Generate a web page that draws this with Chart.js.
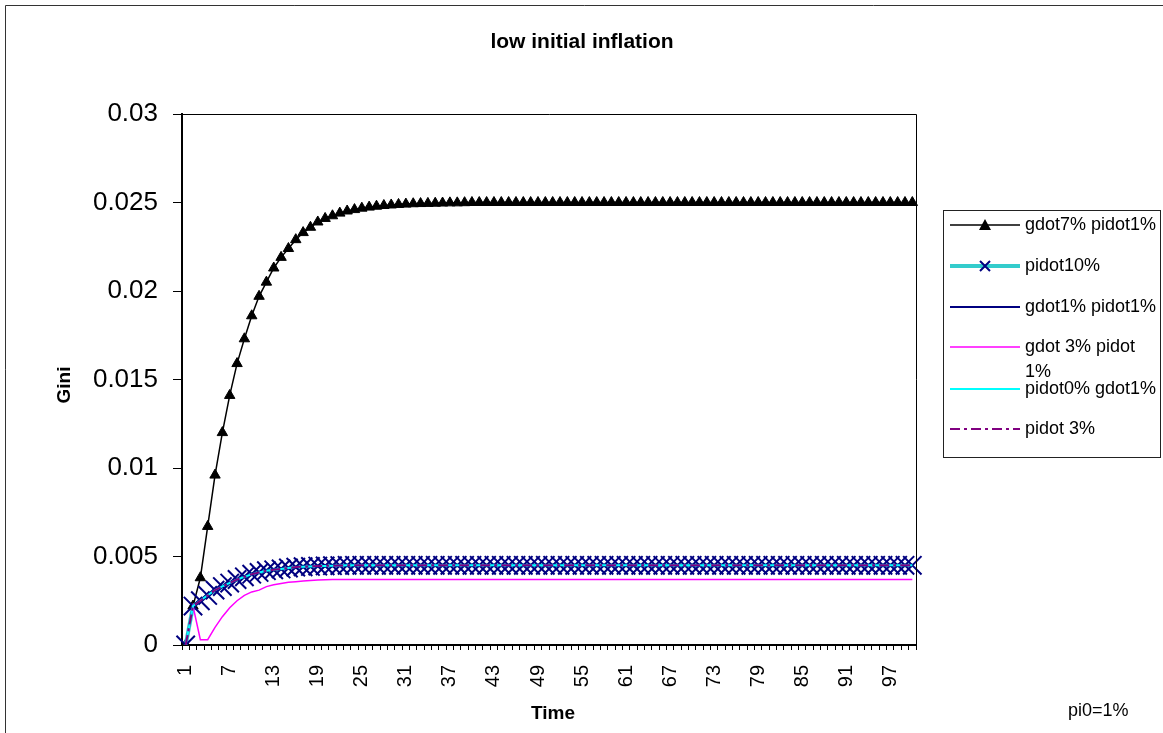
<!DOCTYPE html>
<html>
<head>
<meta charset="utf-8">
<script src="https://cdn.jsdelivr.net/npm/chart.js@4.4.1/dist/chart.umd.min.js"></script>
<style>
  html, body { margin: 0; padding: 0; background: #fff; }
</style>
</head>
<body>
<canvas id="c" width="1163" height="733"></canvas>
<script>
const FONT = "'Liberation Sans', Arial, sans-serif";

// time steps 1..100
const timeSteps = Array.from({ length: 100 }, (_, i) => String(i + 1));

const seriesNames = ['gdot7% pidot1%', 'pidot10%', 'gdot1% pidot1%', 'gdot 3% pidot 1%', 'pidot0% gdot1%', 'pidot 3%'];

const gdot7pidot1 = [
  0, 0.0022, 0.0038, 0.0067, 0.0096, 0.0120, 0.0141, 0.0159, 0.0173, 0.0186,
  0.0197, 0.0205, 0.0213, 0.0219, 0.0224, 0.0229, 0.0233, 0.0236, 0.0239, 0.0241,
  0.02425, 0.0244, 0.02452, 0.0246, 0.02468, 0.02474, 0.02479, 0.02483, 0.02486, 0.02489,
  0.02491, 0.02493, 0.02494, 0.02495, 0.02496, 0.02497, 0.02498, 0.02498, 0.02499, 0.025,
  0.025, 0.025, 0.025, 0.025, 0.025, 0.025, 0.025, 0.025, 0.025, 0.025,
  0.025, 0.025, 0.025, 0.025, 0.025, 0.025, 0.025, 0.025, 0.025, 0.025,
  0.025, 0.025, 0.025, 0.025, 0.025, 0.025, 0.025, 0.025, 0.025, 0.025,
  0.025, 0.025, 0.025, 0.025, 0.025, 0.025, 0.025, 0.025, 0.025, 0.025,
  0.025, 0.025, 0.025, 0.025, 0.025, 0.025, 0.025, 0.025, 0.025, 0.025,
  0.025, 0.025, 0.025, 0.025, 0.025, 0.025, 0.025, 0.025, 0.025, 0.025
];

const pidot10 = [
  0, 0.0022, 0.0025, 0.0028, 0.0031, 0.0033, 0.0035, 0.0037, 0.00385, 0.0040,
  0.0041, 0.0042, 0.00425, 0.0043, 0.00435, 0.0044, 0.00442, 0.00444, 0.00446, 0.00447,
  0.00448, 0.00449, 0.0045, 0.0045, 0.0045, 0.0045, 0.0045, 0.0045, 0.0045, 0.0045,
  0.0045, 0.0045, 0.0045, 0.0045, 0.0045, 0.0045, 0.0045, 0.0045, 0.0045, 0.0045,
  0.0045, 0.0045, 0.0045, 0.0045, 0.0045, 0.0045, 0.0045, 0.0045, 0.0045, 0.0045,
  0.0045, 0.0045, 0.0045, 0.0045, 0.0045, 0.0045, 0.0045, 0.0045, 0.0045, 0.0045,
  0.0045, 0.0045, 0.0045, 0.0045, 0.0045, 0.0045, 0.0045, 0.0045, 0.0045, 0.0045,
  0.0045, 0.0045, 0.0045, 0.0045, 0.0045, 0.0045, 0.0045, 0.0045, 0.0045, 0.0045,
  0.0045, 0.0045, 0.0045, 0.0045, 0.0045, 0.0045, 0.0045, 0.0045, 0.0045, 0.0045,
  0.0045, 0.0045, 0.0045, 0.0045, 0.0045, 0.0045, 0.0045, 0.0045, 0.0045, 0.0045
];

const gdot1pidot1 = [
  0, 0.0022, 0.00252, 0.00282, 0.0031, 0.00332, 0.00352, 0.0037, 0.00386, 0.004,
  0.0041, 0.00418, 0.00425, 0.0043, 0.00435, 0.00439, 0.00442, 0.00444, 0.00446, 0.00447,
  0.00448, 0.00449, 0.0045, 0.0045, 0.0045, 0.0045, 0.0045, 0.0045, 0.0045, 0.0045,
  0.0045, 0.0045, 0.0045, 0.0045, 0.0045, 0.0045, 0.0045, 0.0045, 0.0045, 0.0045,
  0.0045, 0.0045, 0.0045, 0.0045, 0.0045, 0.0045, 0.0045, 0.0045, 0.0045, 0.0045,
  0.0045, 0.0045, 0.0045, 0.0045, 0.0045, 0.0045, 0.0045, 0.0045, 0.0045, 0.0045,
  0.0045, 0.0045, 0.0045, 0.0045, 0.0045, 0.0045, 0.0045, 0.0045, 0.0045, 0.0045,
  0.0045, 0.0045, 0.0045, 0.0045, 0.0045, 0.0045, 0.0045, 0.0045, 0.0045, 0.0045,
  0.0045, 0.0045, 0.0045, 0.0045, 0.0045, 0.0045, 0.0045, 0.0045, 0.0045, 0.0045,
  0.0045, 0.0045, 0.0045, 0.0045, 0.0045, 0.0045, 0.0045, 0.0045, 0.0045, 0.0045
];

const gdot3pidot1 = [
  0, 0.0022, 0.0003, 0.0003, 0.0010, 0.0016, 0.0021, 0.0025, 0.0028, 0.0030,
  0.0031, 0.0033, 0.0034, 0.00348, 0.00354, 0.00358, 0.00362, 0.00365, 0.00367, 0.00369,
  0.0037, 0.0037, 0.0037, 0.0037, 0.0037, 0.0037, 0.0037, 0.0037, 0.0037, 0.0037,
  0.0037, 0.0037, 0.0037, 0.0037, 0.0037, 0.0037, 0.0037, 0.0037, 0.0037, 0.0037,
  0.0037, 0.0037, 0.0037, 0.0037, 0.0037, 0.0037, 0.0037, 0.0037, 0.0037, 0.0037,
  0.0037, 0.0037, 0.0037, 0.0037, 0.0037, 0.0037, 0.0037, 0.0037, 0.0037, 0.0037,
  0.0037, 0.0037, 0.0037, 0.0037, 0.0037, 0.0037, 0.0037, 0.0037, 0.0037, 0.0037,
  0.0037, 0.0037, 0.0037, 0.0037, 0.0037, 0.0037, 0.0037, 0.0037, 0.0037, 0.0037,
  0.0037, 0.0037, 0.0037, 0.0037, 0.0037, 0.0037, 0.0037, 0.0037, 0.0037, 0.0037,
  0.0037, 0.0037, 0.0037, 0.0037, 0.0037, 0.0037, 0.0037, 0.0037, 0.0037, 0.0037
];

const pidot0gdot1 = [
  0, 0.0022, 0.00251, 0.00281, 0.0031, 0.00331, 0.00351, 0.0037, 0.00385, 0.004,
  0.0041, 0.00419, 0.00425, 0.0043, 0.00435, 0.0044, 0.00442, 0.00444, 0.00446, 0.00447,
  0.00448, 0.00449, 0.0045, 0.0045, 0.0045, 0.0045, 0.0045, 0.0045, 0.0045, 0.0045,
  0.0045, 0.0045, 0.0045, 0.0045, 0.0045, 0.0045, 0.0045, 0.0045, 0.0045, 0.0045,
  0.0045, 0.0045, 0.0045, 0.0045, 0.0045, 0.0045, 0.0045, 0.0045, 0.0045, 0.0045,
  0.0045, 0.0045, 0.0045, 0.0045, 0.0045, 0.0045, 0.0045, 0.0045, 0.0045, 0.0045,
  0.0045, 0.0045, 0.0045, 0.0045, 0.0045, 0.0045, 0.0045, 0.0045, 0.0045, 0.0045,
  0.0045, 0.0045, 0.0045, 0.0045, 0.0045, 0.0045, 0.0045, 0.0045, 0.0045, 0.0045,
  0.0045, 0.0045, 0.0045, 0.0045, 0.0045, 0.0045, 0.0045, 0.0045, 0.0045, 0.0045,
  0.0045, 0.0045, 0.0045, 0.0045, 0.0045, 0.0045, 0.0045, 0.0045, 0.0045, 0.0045
];

const pidot3 = [
  0, 0.0022, 0.0025, 0.0028, 0.0031, 0.0033, 0.0035, 0.0037, 0.00385, 0.0040,
  0.0041, 0.0042, 0.00425, 0.0043, 0.00435, 0.0044, 0.00442, 0.00444, 0.00446, 0.00447,
  0.00448, 0.00449, 0.0045, 0.0045, 0.0045, 0.0045, 0.0045, 0.0045, 0.0045, 0.0045,
  0.0045, 0.0045, 0.0045, 0.0045, 0.0045, 0.0045, 0.0045, 0.0045, 0.0045, 0.0045,
  0.0045, 0.0045, 0.0045, 0.0045, 0.0045, 0.0045, 0.0045, 0.0045, 0.0045, 0.0045,
  0.0045, 0.0045, 0.0045, 0.0045, 0.0045, 0.0045, 0.0045, 0.0045, 0.0045, 0.0045,
  0.0045, 0.0045, 0.0045, 0.0045, 0.0045, 0.0045, 0.0045, 0.0045, 0.0045, 0.0045,
  0.0045, 0.0045, 0.0045, 0.0045, 0.0045, 0.0045, 0.0045, 0.0045, 0.0045, 0.0045,
  0.0045, 0.0045, 0.0045, 0.0045, 0.0045, 0.0045, 0.0045, 0.0045, 0.0045, 0.0045,
  0.0045, 0.0045, 0.0045, 0.0045, 0.0045, 0.0045, 0.0045, 0.0045, 0.0045, 0.0045
];

// series styles (same order as seriesNames)
const styles = [
  { color: '#000000', width: 1.5, dash: [], point: 'triangle', pointColor: '#000000', radius: 6 },
  { color: '#33CCCC', width: 4, dash: [], point: 'crossRot', pointColor: '#000080', radius: 13 },
  { color: '#000080', width: 2, dash: [], point: false },
  { color: '#FF00FF', width: 1.5, dash: [], point: false },
  { color: '#00FFFF', width: 2, dash: [], point: false },
  { color: '#800080', width: 2, dash: [10, 4, 3, 4], point: false }
];

const allValues = [gdot7pidot1, pidot10, gdot1pidot1, gdot3pidot1, pidot0gdot1, pidot3];

const datasets = allValues.map((vals, i) => {
  const s = styles[i];
  return {
    label: seriesNames[i],
    data: vals,
    borderColor: s.color,
    borderWidth: s.width,
    borderDash: s.dash,
    backgroundColor: s.pointColor || s.color,
    pointStyle: s.point,
    pointRadius: s.point ? s.radius : 0,
    pointBackgroundColor: s.pointColor,
    pointBorderColor: s.pointColor,
    pointBorderWidth: s.point === 'crossRot' ? 2 : 1,
    tension: 0,
    fill: false,
    order: 5 - i
  };
});

function wrapText(ctx, text, maxW) {
  const words = text.split(' ');
  const lines = [];
  let cur = '';
  words.forEach(w => {
    const test = cur ? cur + ' ' + w : w;
    if (ctx.measureText(test).width > maxW && cur) {
      lines.push(cur);
      cur = w;
    } else {
      cur = test;
    }
  });
  lines.push(cur);
  return lines;
}

const decor = {
  id: 'decor',
  beforeDraw(chart) {
    const ctx = chart.ctx;
    ctx.save();
    ctx.fillStyle = '#fff';
    ctx.fillRect(0, 0, chart.width, chart.height);
    ctx.restore();
  },
  afterDraw(chart) {
    const { ctx, chartArea: a } = chart;
    ctx.save();

    // outer frame
    ctx.strokeStyle = '#333';
    ctx.lineWidth = 1;
    ctx.beginPath();
    ctx.moveTo(5.5, chart.height);
    ctx.lineTo(5.5, 5.5);
    ctx.lineTo(chart.width, 5.5);
    ctx.stroke();

    // plot area border (top and right)
    ctx.strokeStyle = '#000';
    ctx.lineWidth = 1;
    ctx.beginPath();
    ctx.moveTo(a.left, a.top + 0.5);
    ctx.lineTo(a.right + 0.5, a.top + 0.5);
    ctx.lineTo(a.right + 0.5, a.bottom);
    ctx.stroke();

    // title
    ctx.fillStyle = '#000';
    ctx.textAlign = 'center';
    ctx.textBaseline = 'middle';
    ctx.font = 'bold 21px ' + FONT;
    ctx.fillText('low initial inflation', 582, 42);

    // axis titles
    ctx.font = 'bold 19px ' + FONT;
    ctx.fillText('Time', 553, 714);
    ctx.save();
    ctx.translate(65, 385);
    ctx.rotate(-Math.PI / 2);
    ctx.fillText('Gini', 0, 0);
    ctx.restore();

    ctx.font = '18px ' + FONT;
    ctx.textAlign = 'left';
    ctx.fillText('pi0=1%', 1068, 711);

    // legend
    const box = { x: 943.5, y: 210.5, w: 217, h: 247 };
    ctx.strokeStyle = '#222';
    ctx.lineWidth = 1;
    ctx.strokeRect(box.x, box.y, box.w, box.h);

    const rowY = [225, 266, 307, 347, 389, 429];
    ctx.font = '18px ' + FONT;
    seriesNames.forEach((name, i) => {
      const s = styles[i];
      const y = rowY[i];
      ctx.save();
      ctx.strokeStyle = s.color;
      ctx.lineWidth = s.width;
      ctx.setLineDash(s.dash);
      ctx.beginPath();
      ctx.moveTo(950, y);
      ctx.lineTo(1020, y);
      ctx.stroke();
      ctx.restore();
      if (s.point) {
        ctx.fillStyle = s.pointColor;
        ctx.strokeStyle = s.pointColor;
        ctx.lineWidth = s.point === 'crossRot' ? 2 : 1;
        ctx.beginPath();
        if (s.point === 'triangle') {
          ctx.moveTo(985, y - 6);
          ctx.lineTo(991, y + 5);
          ctx.lineTo(979, y + 5);
          ctx.closePath();
          ctx.fill();
        } else {
          ctx.moveTo(980, y - 5); ctx.lineTo(990, y + 5);
          ctx.moveTo(990, y - 5); ctx.lineTo(980, y + 5);
          ctx.stroke();
        }
      }
      ctx.fillStyle = '#000';
      ctx.textAlign = 'left';
      ctx.textBaseline = 'middle';
      const lines = wrapText(ctx, name, 134);
      lines.forEach((ln, k) => ctx.fillText(ln, 1025, y + k * 25));
    });

    ctx.restore();
  }
};

new Chart(document.getElementById('c').getContext('2d'), {
  type: 'line',
  data: { labels: timeSteps, datasets: datasets },
  options: {
    responsive: false,
    animation: false,
    events: [],
    layout: { padding: { left: 0, right: 247, top: 114, bottom: 0 } },
    plugins: {
      legend: { display: false },
      title: { display: false },
      tooltip: { enabled: false }
    },
    scales: {
      x: {
        type: 'category',
        offset: true,
        grid: { offset: true, drawOnChartArea: false, tickLength: 5, color: '#000', lineWidth: 1 },
        border: { color: '#000', width: 2 },
        ticks: {
          autoSkip: false,
          minRotation: 90,
          maxRotation: 90,
          padding: 15,
          color: '#000',
          font: { family: FONT, size: 20 },
          callback: (v, i) => (i % 6 === 0 ? timeSteps[i] : '')
        },
        afterFit: s => { s.height = 88; }
      },
      y: {
        min: 0,
        max: 0.03,
        grid: { drawOnChartArea: false, tickLength: 9, color: '#000', lineWidth: 1 },
        border: { color: '#000', width: 2 },
        ticks: {
          stepSize: 0.005,
          padding: 15,
          color: '#000',
          font: { family: FONT, size: 26 },
          callback: v => String(+v.toFixed(3))
        },
        afterFit: s => { s.width = 182; }
      }
    }
  },
  plugins: [decor]
});
</script>
</body>
</html>
